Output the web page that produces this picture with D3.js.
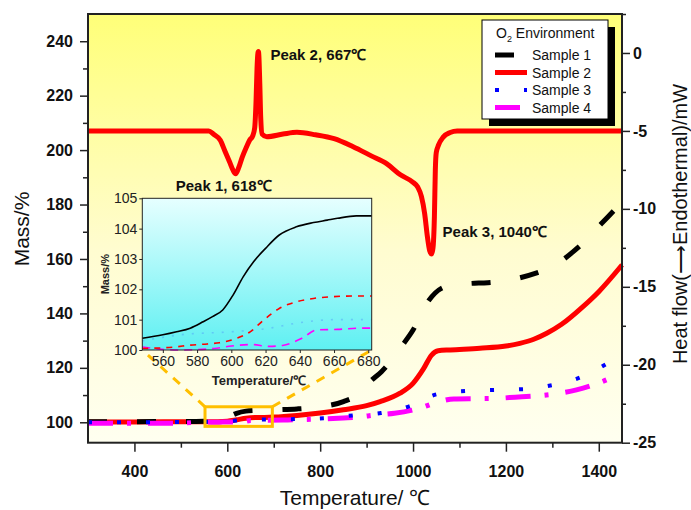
<!DOCTYPE html>
<html>
<head>
<meta charset="utf-8">
<script src="https://cdn.jsdelivr.net/npm/d3@7"></script>
<style>
  body { margin: 0; background: #fff; }
  svg text { font-family: "Liberation Sans", Arial, sans-serif; }
</style>
</head>
<body>
<div class="chart"></div>
<script>
// DSC heat flow (right axis)
const dscT  = [300, 560, 570, 585, 595, 605, 612, 618, 624, 632, 641, 648, 655, 659, 662, 664, 666, 667, 668, 670, 672, 675, 685, 720, 750, 790, 830, 870, 910, 943, 972, 1000, 1010, 1018, 1025, 1031, 1036, 1040, 1043, 1046, 1048, 1050, 1055, 1065, 1080, 1095, 1450];
const dscHF = [-5, -5, -5.2, -5.6, -6.3, -7.0, -7.5, -7.75, -7.4, -6.7, -6.05, -5.6, -5.3, -4.8, -3, -1, 0, 0.1, -0.2, -2, -4.2, -5.2, -5.37, -5.2, -5.09, -5.25, -5.5, -6.0, -6.6, -7.1, -7.8, -8.3, -8.6, -9.2, -10.3, -11.8, -12.7, -12.9, -12.5, -10.5, -7.5, -6.4, -5.9, -5.4, -5.1, -5.0, -5.0];

// TG mass curves (left axis)
const s1T    = [300, 500, 550, 580, 600, 620, 640, 660, 700, 750, 800, 850, 880, 907, 932, 955, 975, 1000, 1032, 1061, 1090, 1123, 1161, 1200, 1226, 1263, 1290, 1317, 1345, 1370, 1392, 1420, 1445];
const s1Mass = [100.2, 100.3, 100.4, 100.9, 101.8, 103.3, 104.1, 104.35, 104.6, 104.9, 105.7, 107.6, 110, 114.9, 118.6, 123, 127.8, 133.9, 144.3, 149.2, 150.5, 151, 151.3, 152, 152.9, 154.7, 156.5, 159, 162.7, 166.5, 170.6, 175.5, 180];

const s2T    = [300, 400, 500, 560, 600, 620, 640, 660, 680, 700, 750, 800, 850, 900, 929, 972, 1000, 1022, 1040, 1054, 1080, 1144, 1200, 1230, 1260, 1288, 1320, 1366, 1400, 1450];
const s2Mass = [100.1, 100.1, 100.2, 100.2, 100.4, 100.9, 101.5, 101.75, 101.8, 101.9, 102.5, 103.4, 104.6, 106.1, 107.6, 110.7, 114.3, 119.5, 124.7, 126.3, 126.6, 127.2, 128, 129, 130.5, 132.7, 136, 142.5, 148, 157.8];

const s3T    = [300, 500, 600, 640, 680, 750, 807, 870, 931, 994, 1051, 1114, 1177, 1239, 1299, 1356, 1415];
const s3Mass = [100, 100.1, 100.3, 101, 101, 101.2, 101.5, 102.5, 103.4, 106, 110.3, 111.5, 111.9, 112.2, 113.6, 116.2, 121.3];

const s4T    = [300, 400, 500, 550, 580, 600, 630, 650, 680, 720, 760, 800, 850, 880, 920, 960, 1013, 1049, 1088, 1142, 1180, 1220, 1274, 1313, 1352, 1404, 1440];
const s4Mass = [99.6, 99.6, 99.7, 100.1, 100, 100.15, 100.1, 100.7, 100.75, 100.8, 101, 101.2, 101.6, 101.9, 102.7, 103.3, 105.1, 107.2, 108.6, 108.7, 108.8, 109.2, 109.8, 110.6, 111.9, 114.7, 117.4];

// inset (zoom 550-680 C)
const inS1T    = [548, 560, 568, 576, 583.5, 589, 595, 601, 607, 613, 620, 628, 638, 648, 656, 662, 673, 682];
const inS1Mass = [100.39, 100.5, 100.6, 100.72, 100.93, 101.1, 101.32, 101.81, 102.42, 102.91, 103.35, 103.79, 104.06, 104.2, 104.28, 104.34, 104.42, 104.42];
const inS2T    = [548, 567, 576, 586, 593, 603, 611, 619, 628, 638, 648, 660, 673, 682];
const inS2Mass = [100.05, 100.1, 100.16, 100.2, 100.24, 100.38, 100.6, 100.99, 101.37, 101.59, 101.7, 101.76, 101.78, 101.78];
const inS3T    = [548, 570, 600, 620, 640, 660, 682];
const inS3Mass = [100.3, 100.5, 100.6, 100.7, 100.9, 101, 101];
const inS4T    = [548, 558, 570, 590, 600, 612, 622, 630, 641, 650, 662, 675, 682];
const inS4Mass = [100.1, 100.03, 100, 100.05, 100.13, 100.18, 100.12, 100.15, 100.38, 100.66, 100.68, 100.72, 100.72];

const zoomBoxT = [552, 697];
const zoomBoxMass = [98.5, 105.7];

const massTicks = [100, 120, 140, 160, 180, 200, 220, 240];
const hfTicks = [0, -5, -10, -15, -20, -25];
const tempTicks = [400, 600, 800, 1000, 1200, 1400];
const insetTempTicks = [560, 580, 600, 620, 640, 660, 680];
const insetMassTicks = [100, 101, 102, 103, 104, 105];

const peaks = [
  {label: 'Peak 1, 618\u2103', T: 618, hf: -7.75},
  {label: 'Peak 2, 667\u2103', T: 667, hf: 0.1},
  {label: 'Peak 3, 1040\u2103', T: 1040, hf: -12.9}
];

const sampleNames = ['Sample 1', 'Sample 2', 'Sample 3', 'Sample 4'];

const W = 691, H = 510;
const L = 88, R = 622, T = 14, B = 442.7;

const x = d3.scaleLinear().domain([300, 1450]).range([L, R]);
const yL = d3.scaleLinear().domain([92.5, 250]).range([B, T]);
const yR = d3.scaleLinear().domain([-25, 2.5]).range([B, T]);

const svg = d3.select('.chart').append('svg')
  .attr('width', W).attr('height', H);

const defs = svg.append('defs');
const g1 = defs.append('linearGradient').attr('id', 'bgMain')
  .attr('x1', 0).attr('y1', 0).attr('x2', 0).attr('y2', 1);
g1.append('stop').attr('offset', '0%').attr('stop-color', '#ffff78');
g1.append('stop').attr('offset', '55%').attr('stop-color', '#fffcd0');
g1.append('stop').attr('offset', '100%').attr('stop-color', '#fffff0');

const g2 = defs.append('linearGradient').attr('id', 'bgInset')
  .attr('x1', 0).attr('y1', 0).attr('x2', 0).attr('y2', 1);
g2.append('stop').attr('offset', '0%').attr('stop-color', '#e6ffff');
g2.append('stop').attr('offset', '100%').attr('stop-color', '#5ef0f2');

svg.append('rect')
  .attr('x', L).attr('y', T).attr('width', R - L).attr('height', B - T)
  .attr('fill', 'url(#bgMain)');

const zip = (a, b) => a.map((d, i) => [d, b[i]]);

const styles = [
  {color: '#000000', width: 5, dash: '19,30'},
  {color: '#ff0000', width: 5, dash: null},
  {color: '#0000ff', width: 4, dash: '4,25'},
  {color: '#ff00ff', width: 5, dash: '25,14,4,17'}
];

const plot = svg.append('g');

// DSC curve
const dscLine = d3.line().x(d => x(d[0])).y(d => yR(d[1])).curve(d3.curveMonotoneX);
plot.append('path')
  .datum(zip(dscT, dscHF))
  .attr('d', dscLine)
  .attr('fill', 'none')
  .attr('stroke', '#ff0000')
  .attr('stroke-width', 5)
  .attr('stroke-linejoin', 'round');

const massLine = d3.line().x(d => x(d[0])).y(d => yL(d[1])).curve(d3.curveMonotoneX);
const mainSeries = [zip(s1T, s1Mass), zip(s2T, s2Mass), zip(s3T, s3Mass), zip(s4T, s4Mass)];

[1, 0, 3, 2].forEach(i => {
  plot.append('path')
    .datum(mainSeries[i])
    .attr('d', massLine)
    .attr('fill', 'none')
    .attr('stroke', styles[i].color)
    .attr('stroke-width', styles[i].width)
    .attr('stroke-dasharray', styles[i].dash);
});

// inset scales
const ix = d3.scaleLinear().domain([548, 682]).range([142.3, 371.7]);
const iy = d3.scaleLinear().domain([100, 105]).range([350, 198.3]);

// zoom box + connectors
const zx0 = x(zoomBoxT[0]), zx1 = x(zoomBoxT[1]);
const zy0 = yL(zoomBoxMass[1]), zy1 = yL(zoomBoxMass[0]);
const gold = '#ffbf00';

plot.append('line')
  .attr('x1', zx0).attr('y1', zy0).attr('x2', ix.range()[0]).attr('y2', iy.range()[0])
  .attr('stroke', gold).attr('stroke-width', 3).attr('stroke-dasharray', '9,8');
plot.append('line')
  .attr('x1', zx1).attr('y1', zy0).attr('x2', ix.range()[1]).attr('y2', iy.range()[0])
  .attr('stroke', gold).attr('stroke-width', 3).attr('stroke-dasharray', '9,8');
plot.append('rect')
  .attr('x', zx0).attr('y', zy0).attr('width', zx1 - zx0).attr('height', zy1 - zy0)
  .attr('fill', 'none').attr('stroke', gold).attr('stroke-width', 3);

// inset
const inset = svg.append('g');
inset.append('rect')
  .attr('x', ix.range()[0]).attr('y', iy.range()[1])
  .attr('width', ix.range()[1] - ix.range()[0]).attr('height', iy.range()[0] - iy.range()[1])
  .attr('fill', 'url(#bgInset)');

const inLine = d3.line().x(d => ix(d[0])).y(d => iy(d[1])).curve(d3.curveMonotoneX);
const inSeries = [zip(inS1T, inS1Mass), zip(inS2T, inS2Mass), zip(inS3T, inS3Mass), zip(inS4T, inS4Mass)];
const inStyles = [
  {color: '#000', width: 1.6, dash: null, op: 1},
  {color: '#ff0000', width: 1.6, dash: '6,6', op: 1},
  {color: '#3355ff', width: 1.6, dash: '2,8', op: 0.25},
  {color: '#ff00ff', width: 1.6, dash: '8,6', op: 1}
];
[2, 3, 1, 0].forEach(i => {
  inset.append('path')
    .datum(inSeries[i])
    .attr('d', inLine)
    .attr('fill', 'none')
    .attr('stroke', inStyles[i].color)
    .attr('stroke-width', inStyles[i].width)
    .attr('stroke-opacity', inStyles[i].op)
    .attr('stroke-dasharray', inStyles[i].dash);
});

inset.append('rect')
  .attr('x', ix.range()[0]).attr('y', iy.range()[1])
  .attr('width', ix.range()[1] - ix.range()[0]).attr('height', iy.range()[0] - iy.range()[1])
  .attr('fill', 'none').attr('stroke', '#222').attr('stroke-width', 1);

const inXAxis = inset.append('g')
  .attr('transform', 'translate(0,' + iy.range()[0] + ')')
  .call(d3.axisBottom(ix).tickValues(insetTempTicks).tickSize(3).tickPadding(3).tickFormat(d3.format('d')));
const inYAxis = inset.append('g')
  .attr('transform', 'translate(' + ix.range()[0] + ',0)')
  .call(d3.axisLeft(iy).tickValues(insetMassTicks).tickSize(3).tickPadding(2).tickFormat(d3.format('d')));
[inXAxis, inYAxis].forEach(a => {
  a.select('.domain').remove();
  a.selectAll('.tick line').attr('stroke', '#222');
  a.selectAll('.tick text').attr('fill', '#222').style('font-size', '14px')
    .style('font-family', '"Liberation Sans", Arial, sans-serif');
});

inset.append('text')
  .attr('x', (ix.range()[0] + ix.range()[1]) / 2 + 2)
  .attr('y', 385)
  .attr('text-anchor', 'middle')
  .style('font-size', '13px').style('font-weight', 'bold')
  .attr('fill', '#222')
  .text('Temperature/\u2103');
inset.append('text')
  .attr('transform', 'translate(109,' + ((iy.range()[0] + iy.range()[1]) / 2) + ') rotate(-90)')
  .attr('text-anchor', 'middle')
  .style('font-size', '11px').style('font-weight', 'bold')
  .attr('fill', '#222')
  .text('Mass/%');

// peak labels
const peakOffsets = [[-12, 17], [12, 9], [11, -17]];
const peakAnchors = ['middle', 'start', 'start'];
peaks.forEach((p, i) => {
  svg.append('text')
    .attr('x', x(p.T) + peakOffsets[i][0])
    .attr('y', yR(p.hf) + peakOffsets[i][1])
    .attr('text-anchor', peakAnchors[i])
    .style('font-size', '15px').style('font-weight', 'bold')
    .attr('fill', '#111')
    .text(p.label);
});

// legend
const lg = svg.append('g');
lg.append('rect').attr('x', 489).attr('y', 27).attr('width', 126).attr('height', 99).attr('fill', '#000');
lg.append('rect').attr('x', 482).attr('y', 20).attr('width', 126).attr('height', 99)
  .attr('fill', '#fff').attr('stroke', '#000').attr('stroke-width', 1);
const lgTitle = lg.append('text').attr('x', 496).attr('y', 38)
  .style('font-size', '14px').attr('fill', '#111');
lgTitle.append('tspan').text('O');
lgTitle.append('tspan').attr('dy', 4).style('font-size', '9px').text('2');
lgTitle.append('tspan').attr('dy', -4).text(' Environment');
sampleNames.forEach((name, i) => {
  const yy = 55 + i * 17.5;
  lg.append('line')
    .attr('x1', 495).attr('x2', 527).attr('y1', yy).attr('y2', yy)
    .attr('stroke', styles[i].color)
    .attr('stroke-width', styles[i].width)
    .attr('stroke-dasharray', styles[i].dash);
  lg.append('text').attr('x', 532).attr('y', yy + 5)
    .style('font-size', '14px').attr('fill', '#111').text(name);
});

// axes
const tickFont = sel => sel.selectAll('.tick text')
  .style('font-size', '16px').style('font-weight', 'bold')
  .style('font-family', '"Liberation Sans", Arial, sans-serif')
  .attr('fill', '#111');

const fmt = d3.format('d');
const axL = svg.append('g').attr('transform', 'translate(' + L + ',0)')
  .call(d3.axisLeft(yL).tickValues(massTicks).tickSize(8).tickPadding(7).tickFormat(fmt));
const axLm = svg.append('g').attr('transform', 'translate(' + L + ',0)')
  .call(d3.axisLeft(yL).tickValues(d3.range(100, 250, 10).filter(v => v % 20)).tickSize(5).tickFormat(''));
const axR = svg.append('g').attr('transform', 'translate(' + R + ',0)')
  .call(d3.axisRight(yR).tickValues(hfTicks).tickSize(8).tickPadding(3).tickFormat(d => d === 0 ? '0' : '-' + Math.abs(d)));
const axRm = svg.append('g').attr('transform', 'translate(' + R + ',0)')
  .call(d3.axisRight(yR).tickValues([-22.5, -17.5, -12.5, -7.5, -2.5, 2.5]).tickSize(4).tickFormat(''));
const axB = svg.append('g').attr('transform', 'translate(0,' + B + ')')
  .call(d3.axisBottom(x).tickValues(tempTicks).tickSize(9).tickPadding(14).tickFormat(fmt));
const axBm = svg.append('g').attr('transform', 'translate(0,' + B + ')')
  .call(d3.axisBottom(x).tickValues([500, 700, 900, 1100, 1300]).tickSize(5).tickFormat(''));

[axL, axLm, axR, axRm, axB, axBm].forEach(a => {
  a.select('.domain').remove();
  a.selectAll('.tick line').attr('stroke', '#222').attr('stroke-width', 1.5);
  tickFont(a);
});

svg.append('rect')
  .attr('x', L).attr('y', T).attr('width', R - L).attr('height', B - T)
  .attr('fill', 'none').attr('stroke', '#222').attr('stroke-width', 2);

// axis titles
svg.append('text')
  .attr('x', (L + R) / 2).attr('y', 505)
  .attr('text-anchor', 'middle')
  .style('font-size', '21px').attr('fill', '#111')
  .text('Temperature/ \u2103');
svg.append('text')
  .attr('transform', 'translate(29,' + 229 + ') rotate(-90)')
  .attr('text-anchor', 'middle')
  .style('font-size', '21px').attr('fill', '#111')
  .text('Mass/%');
svg.append('text')
  .attr('transform', 'translate(687,' + 224 + ') rotate(-90)')
  .attr('text-anchor', 'middle')
  .style('font-size', '20px').attr('fill', '#111')
  .text('Heat flow(\u27F6Endothermal)/mW');
</script>
</body>
</html>
